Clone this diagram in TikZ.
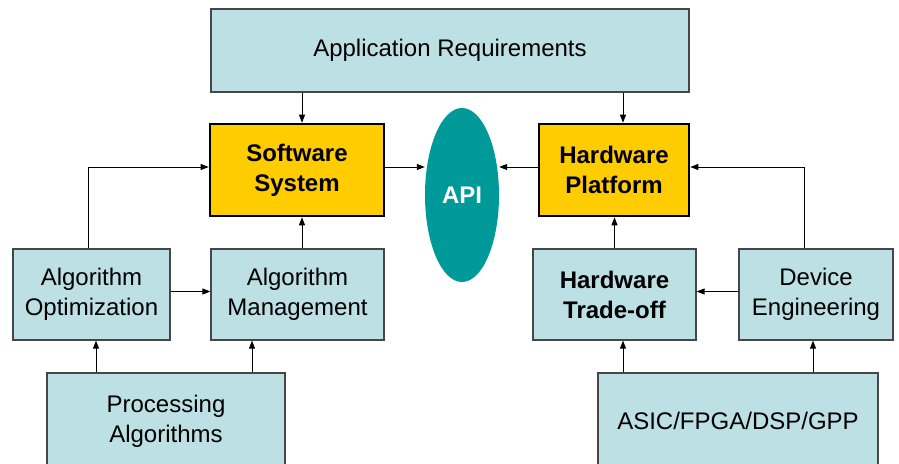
\documentclass[tikz,border=0pt]{standalone}
\usepackage{fontspec}
\setmainfont{Liberation Sans}
\usetikzlibrary{arrows.meta,shapes.geometric}
\definecolor{boxblue}{RGB}{189,224,228}
\definecolor{boxyellow}{RGB}{255,204,0}
\definecolor{apiteal}{RGB}{0,153,153}
\definecolor{edgegray}{RGB}{70,70,70}
\tikzset{
  bluebox/.style={draw=edgegray, line width=1.2pt, fill=boxblue, rectangle, inner sep=0pt, align=center,
    font=\fontsize{24}{30}\selectfont},
  yellowbox/.style={draw=black, line width=2.6pt, fill=boxyellow, rectangle, inner sep=0pt, align=center,
    font=\fontsize{24}{30}\selectfont\bfseries},
  apinode/.style={ellipse, fill=apiteal, inner sep=0pt, text=white, font=\fontsize{24}{30}\selectfont\bfseries},
  arr/.style={draw=black, line width=0.9pt, -{Triangle[length=8pt,width=6pt]}}
}
\begin{document}
\begin{tikzpicture}[x=1pt,y=-1pt]
\useasboundingbox (0,0) rectangle (899,463);
\fill[white] (0,0) rectangle (899,463);
\clip (0,0) rectangle (899,463);
\node[bluebox, minimum width=478pt, minimum height=83pt] (app) at (450,50.5) {Application Requirements};
\node[yellowbox, minimum width=174pt, minimum height=92pt] (ss) at (297,170) {Software\\System};
\node[yellowbox, minimum width=150pt, minimum height=92pt] (hp) at (614,170) {Hardware\\Platform};
\node[apinode, minimum width=74pt, minimum height=174pt] (api) at (462,195) {API};
\node[bluebox, minimum width=157pt, minimum height=91pt] (ao) at (91.5,294.5) {Algorithm\\Optimization};
\node[bluebox, minimum width=173pt, minimum height=91pt] (am) at (297.5,294.5) {Algorithm\\Management};
\node[bluebox, minimum width=163pt, minimum height=91pt, font=\fontsize{24}{30}\selectfont\bfseries] (ht) at (614.5,294.5) {Hardware\\Trade-off};
\node[bluebox, minimum width=154pt, minimum height=91pt] (de) at (816,294.5) {Device\\Engineering};
\node[bluebox, minimum width=238pt, minimum height=96pt] (pa) at (166,421) {Processing\\Algorithms};
\node[bluebox, minimum width=280pt, minimum height=96pt] (asic) at (738,421) {ASIC/FPGA/DSP/GPP};
% arrows
\draw[arr] ([xshift=5pt]ss.north |- app.south) -- ([xshift=5pt]ss.north);
\draw[arr] ([xshift=9pt]hp.north |- app.south) -- ([xshift=9pt]hp.north);
\draw[arr] ([yshift=3pt]ss.east) -- ([yshift=3pt]ss.east -| api.west);
\draw[arr] ([yshift=3pt]hp.west) -- ([yshift=3pt]hp.west -| api.east);
\draw[arr] ([xshift=-3.5pt]ao.north) |- ([yshift=3pt]ss.west);
\draw[arr] ([xshift=4.5pt]am.north) -- ([xshift=4.5pt]am.north |- ss.south);
\draw[arr] ([yshift=3pt]ao.east) -- ([yshift=3pt]am.west);
\draw[arr] ([xshift=4.5pt]ao.south |- pa.north) -- ([xshift=4.5pt]ao.south);
\draw[arr] ([xshift=-45.5pt]am.south |- pa.north) -- ([xshift=-45.5pt]am.south);
\draw[arr] (ht.north) -- (ht.north |- hp.south);
\draw[arr] ([xshift=-12pt]de.north) |- ([yshift=3pt]hp.east);
\draw[arr] ([yshift=3pt]de.west) -- ([yshift=3pt]ht.east);
\draw[arr] ([xshift=8.5pt]ht.south |- asic.north) -- ([xshift=8.5pt]ht.south);
\draw[arr] ([xshift=-3pt]de.south |- asic.north) -- ([xshift=-3pt]de.south);
\end{tikzpicture}
\end{document}
